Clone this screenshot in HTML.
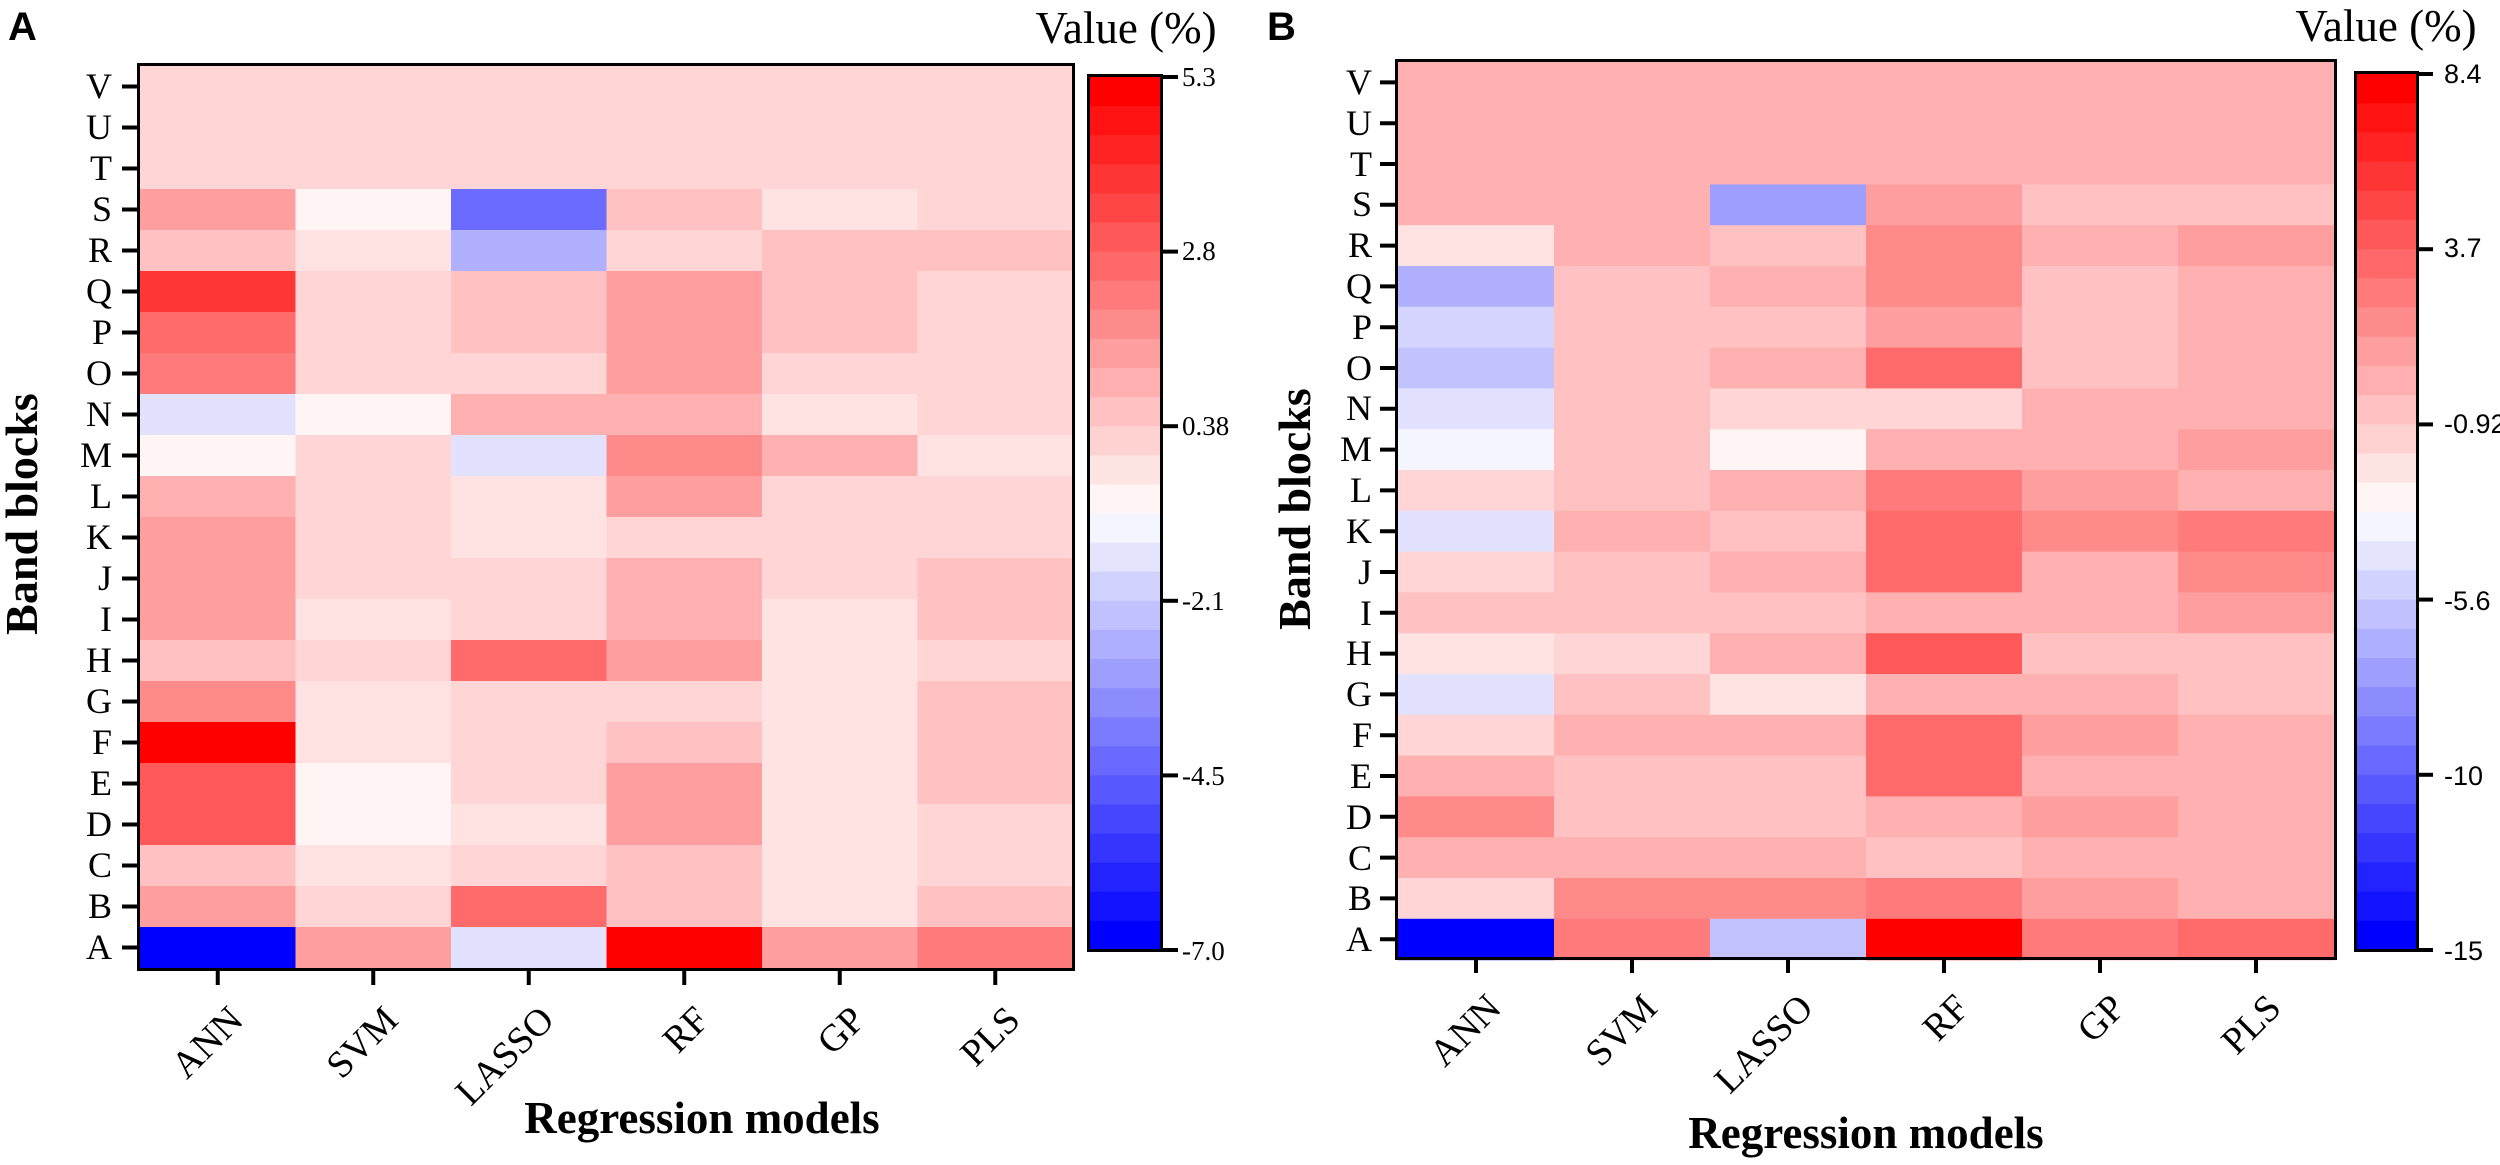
<!DOCTYPE html>
<html><head><meta charset="utf-8"><style>
html,body{margin:0;padding:0;background:#fff;}
svg{display:block;}
.serif{font-family:"Liberation Serif",serif;}
.sans{font-family:"Liberation Sans",sans-serif;}
</style></head><body>
<svg id="s" width="2500" height="1165" viewBox="0 0 2500 1165" xmlns="http://www.w3.org/2000/svg">
<g id="cells"></g>
<!-- Panel A -->
<rect x="138.5" y="64.5" width="935" height="905" fill="none" stroke="#000" stroke-width="3"/>
<rect x="1088.5" y="75.5" width="73" height="875" fill="none" stroke="#000" stroke-width="3"/>
<text x="8" y="40" class="sans" font-weight="bold" font-size="40">A</text>
<text x="1126" y="43" class="serif" font-size="45" text-anchor="middle">Value (%)</text>
<g class="serif" font-size="27" fill="#000">
<text x="1182" y="86">5.3</text>
<text x="1182" y="260">2.8</text>
<text x="1182" y="435">0.38</text>
<text x="1182" y="610">-2.1</text>
<text x="1182" y="785">-4.5</text>
<text x="1182" y="960">-7.0</text>
</g>
<g class="serif" font-size="36" text-anchor="end">
<text x="112" y="98">V</text><text x="112" y="139">U</text><text x="112" y="180">T</text><text x="112" y="221">S</text><text x="112" y="262">R</text><text x="112" y="303">Q</text><text x="112" y="344">P</text><text x="112" y="385">O</text><text x="112" y="426">N</text><text x="112" y="467">M</text><text x="112" y="508">L</text><text x="112" y="549">K</text><text x="112" y="590">J</text><text x="112" y="631">I</text><text x="112" y="672">H</text><text x="112" y="713">G</text><text x="112" y="754">F</text><text x="112" y="795">E</text><text x="112" y="836">D</text><text x="112" y="877">C</text><text x="112" y="918">B</text><text x="112" y="959">A</text>
</g>
<g class="serif" font-size="38" text-anchor="end">
<text transform="translate(245,1022) rotate(-45)">ANN</text>
<text transform="translate(400,1022) rotate(-45)">SVM</text>
<text transform="translate(556,1022) rotate(-45)">LASSO</text>
<text transform="translate(711,1022) rotate(-45)">RF</text>
<text transform="translate(867,1022) rotate(-45)">GP</text>
<text transform="translate(1022,1022) rotate(-45)">PLS</text>
</g>
<text x="702" y="1133" class="serif" font-weight="bold" font-size="45" text-anchor="middle">Regression models</text>
<text transform="translate(37,514) rotate(-90)" class="serif" font-weight="bold" font-size="46" text-anchor="middle">Band blocks</text>

<!-- Panel B -->
<rect x="1396.5" y="60.5" width="939" height="898" fill="none" stroke="#000" stroke-width="3"/>
<rect x="2355.5" y="72.5" width="62" height="878" fill="none" stroke="#000" stroke-width="3"/>
<text x="1267" y="40" class="sans" font-weight="bold" font-size="40">B</text>
<text x="2386" y="41" class="serif" font-size="45" text-anchor="middle">Value (%)</text>
<g class="sans" font-size="27" fill="#000">
<text x="2444" y="83">8.4</text>
<text x="2444" y="257">3.7</text>
<text x="2444" y="433">-0.92</text>
<text x="2444" y="610">-5.6</text>
<text x="2444" y="785">-10</text>
<text x="2444" y="960">-15</text>
</g>
<g class="serif" font-size="36" text-anchor="end">
<text x="1372" y="94">V</text><text x="1372" y="135">U</text><text x="1372" y="176">T</text><text x="1372" y="216">S</text><text x="1372" y="257">R</text><text x="1372" y="298">Q</text><text x="1372" y="339">P</text><text x="1372" y="380">O</text><text x="1372" y="420">N</text><text x="1372" y="461">M</text><text x="1372" y="502">L</text><text x="1372" y="543">K</text><text x="1372" y="584">J</text><text x="1372" y="625">I</text><text x="1372" y="665">H</text><text x="1372" y="706">G</text><text x="1372" y="747">F</text><text x="1372" y="788">E</text><text x="1372" y="829">D</text><text x="1372" y="870">C</text><text x="1372" y="910">B</text><text x="1372" y="951">A</text>
</g>
<g class="serif" font-size="38" text-anchor="end">
<text transform="translate(1503,1010) rotate(-45)">ANN</text>
<text transform="translate(1659,1010) rotate(-45)">SVM</text>
<text transform="translate(1815,1010) rotate(-45)">LASSO</text>
<text transform="translate(1971,1010) rotate(-45)">RF</text>
<text transform="translate(2127,1010) rotate(-45)">GP</text>
<text transform="translate(2283,1010) rotate(-45)">PLS</text>
</g>
<text x="1866" y="1148" class="serif" font-weight="bold" font-size="45" text-anchor="middle">Regression models</text>
<text transform="translate(1310,509) rotate(-90)" class="serif" font-weight="bold" font-size="46" text-anchor="middle">Band blocks</text>
<g id="ticks" stroke="#000" stroke-width="4"></g>
</svg>
<script>
var C={a:"#ffd5d5",b:"#ffe2e2",w:"#fff5f5",c:"#ffc1c1",d:"#ffb0b0",e:"#ff9e9e",f:"#ff8a8a",g:"#ff7a7a",h:"#ff6b6b",i:"#ff5959",j:"#ff3636",R:"#ff0000",p:"#e2e2ff",q:"#d5d5ff",s:"#c2c2ff",t:"#b0b0ff",u:"#9e9eff",v:"#6b6bff",B:"#0000ff",x:"#f5f5ff"};
var A=["aaaaaa","aaaaaa","aaaaaa","ewvcba","cbtacc","jaceca","haceca","gaaeaa","pwddba","wapfdb","dabeaa","eabaaa","eaadac","ebadbc","caheba","fbaabc","Rbacbc","iwaebc","iwbeba","cbacba","eahcbc","BepReg"];
var Bm=["dddddd","dddddd","dddddd","dduecc","bdcfde","tcdfcd","qccecd","scdhcd","pcaadd","xcwdde","acdged","pdchfg","acdhdf","cccdde","badicc","pcbddc","addhed","dcchdd","fccded","dddcdd","affged","BgsRgh"];
var NS="http://www.w3.org/2000/svg",g=document.getElementById("cells"),tk=document.getElementById("ticks");
function r(x,y,w,h,f){var e=document.createElementNS(NS,"rect");e.setAttribute("x",x);e.setAttribute("y",y);e.setAttribute("width",w);e.setAttribute("height",h);e.setAttribute("fill",f);g.appendChild(e);}
function l(x1,y1,x2,y2){var e=document.createElementNS(NS,"line");e.setAttribute("x1",x1);e.setAttribute("y1",y1);e.setAttribute("x2",x2);e.setAttribute("y2",y2);tk.appendChild(e);}
function grid(M,x0,y0,cw,rh){for(var i=0;i<22;i++)for(var j=0;j<6;j++)r(x0+j*cw,y0+i*rh,cw+0.6,rh+0.6,C[M[i][j]]);}
grid(A,140,66,155.5,41);
grid(Bm,1398,62,156,40.8);
function cbar(x,y0,w,h){var n=30,sh=h/n;for(var k=0;k<n;k++){var col;if(k<15){var v=Math.round(245*k/14);col="rgb(255,"+v+","+v+")";}else{var v=Math.round(245*(29-k)/14);col="rgb("+v+","+v+",255)";}r(x,y0+k*sh,w,sh+0.6,col);}}
cbar(1090,77,70,873);
cbar(2357,74,59,876);
for(var i=0;i<22;i++){var y=66+41*i+20.5;l(122,y,140,y);var y2=62+40.8*i+20.4;l(1380,y2,1398,y2);}
for(var j=0;j<6;j++){var x=140+155.5*(j+0.5);l(x,970,x,985);var x2=1398+156*(j+0.5);l(x2,958,x2,973);}
for(var k=0;k<6;k++){var y=77+k*174.6;l(1162,y,1178,y);var y2=74+k*175.2;l(2417,y2,2433,y2);}
</script>
</body></html>
